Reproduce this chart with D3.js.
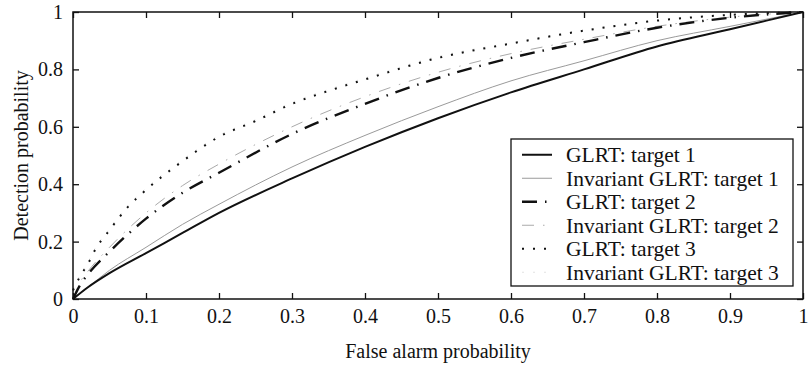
<!DOCTYPE html>
<html><head><meta charset="utf-8">
<script src="https://cdn.jsdelivr.net/npm/d3@7"></script>
<style>body{margin:0;background:#fff}svg{display:block}text{font-family:"Liberation Serif","Times New Roman",serif;fill:#111}</style>
</head><body><svg id="c" width="808" height="371"></svg>
<script>
// False alarm probability grid (x) and detection probabilities per curve
const xGLRT1 = [0,0.02,0.05,0.1,0.15,0.2,0.3,0.4,0.5,0.6,0.7,0.8,0.9,1];
const glrt1  = [0,0.04,0.09,0.16,0.23,0.30,0.42,0.53,0.63,0.72,0.80,0.88,0.94,1];
const inv1   = [0,0.04,0.10,0.18,0.26,0.33,0.46,0.57,0.67,0.76,0.83,0.90,0.95,1];
const xT2    = [0,0.01,0.02,0.05,0.1,0.15,0.2,0.3,0.4,0.5,0.6,0.7,0.8,0.9,1];
const glrt2  = [0,0.05,0.085,0.165,0.28,0.37,0.44,0.575,0.68,0.77,0.84,0.895,0.945,0.98,1];
const inv2   = [0,0.06,0.095,0.18,0.30,0.395,0.47,0.60,0.705,0.79,0.855,0.905,0.95,0.982,1];
const xT3    = [0,0.01,0.02,0.03,0.05,0.075,0.1,0.15,0.2,0.25,0.3,0.35,0.4,0.5,0.6,0.7,0.8,0.9,1];
const glrt3  = [0.03,0.08,0.12,0.17,0.24,0.32,0.38,0.48,0.565,0.62,0.68,0.725,0.765,0.84,0.89,0.935,0.97,0.99,1];
const inv3   = [0.035,0.085,0.125,0.175,0.245,0.325,0.385,0.485,0.57,0.625,0.685,0.73,0.77,0.845,0.893,0.937,0.971,0.99,1];
const xTicks = [0,0.1,0.2,0.3,0.4,0.5,0.6,0.7,0.8,0.9,1];
const yTicks = [0,0.2,0.4,0.6,0.8,1];
const legendLabels = ["GLRT: target 1","Invariant GLRT: target 1","GLRT: target 2","Invariant GLRT: target 2","GLRT: target 3","Invariant GLRT: target 3"];

const svg = d3.select("#c");
const L=73,R=803,T=12,B=299;
const x = d3.scaleLinear().domain([0,1]).range([L,R]);
const y = d3.scaleLinear().domain([0,1]).range([B,T]);

const styles = [
  {stroke:"#111", w:2.0, dash:null},
  {stroke:"#9a9a9a", w:1.0, dash:null},
  {stroke:"#111", w:2.4, dash:"15,8,1.5,8"},
  {stroke:"#aaaaaa", w:1.0, dash:"12,9,1.5,9"},
  {stroke:"#111", w:2.0, dash:"2,9"},
  {stroke:"#e2e2e2", w:1.0, dash:"2,9"}
];
const series = [
  {xs:xGLRT1, ys:glrt1},{xs:xGLRT1, ys:inv1},
  {xs:xT2, ys:glrt2},{xs:xT2, ys:inv2},
  {xs:xT3, ys:glrt3},{xs:xT3, ys:inv3}
];
const line = d3.line().curve(d3.curveMonotoneX);
const g = svg.append("g");
[5,3,1,4,2,0].forEach(i=>{
  const s=series[i], st=styles[i];
  g.append("path").attr("d", line(s.xs.map((v,k)=>[x(v),y(s.ys[k])])))
   .attr("fill","none").attr("stroke",st.stroke).attr("stroke-width",st.w)
   .attr("stroke-dasharray",st.dash);
});

// frame
svg.append("rect").attr("x",L).attr("y",T).attr("width",R-L).attr("height",B-T)
  .attr("fill","none").attr("stroke","#111").attr("stroke-width",1.5);

// axes with inward ticks
const tk=6;
const xb = d3.axisBottom(x).tickValues(xTicks).tickSize(-tk).tickPadding(10).tickFormat(d3.format("~g"));
const xt = d3.axisTop(x).tickValues(xTicks).tickSize(-tk).tickFormat("");
const yl = d3.axisLeft(y).tickValues(yTicks).tickSize(-tk).tickPadding(10).tickFormat(d3.format("~g"));
const yr = d3.axisRight(y).tickValues(yTicks).tickSize(-tk).tickFormat("");
[[xb,`translate(0,${B})`],[xt,`translate(0,${T})`],[yl,`translate(${L},0)`],[yr,`translate(${R},0)`]].forEach(([a,tr])=>{
  const ga=svg.append("g").attr("transform",tr).call(a);
  ga.select(".domain").remove();
  ga.selectAll("line").attr("stroke","#111").attr("stroke-width",1.3);
  ga.selectAll("text").style("font-family",'"Liberation Serif","Times New Roman",serif').style("font-size","20px").attr("fill","#111");
});

svg.append("text").attr("x",(L+R)/2).attr("y",358).attr("text-anchor","middle").style("font-size","20px").text("False alarm probability");
svg.append("text").attr("transform",`translate(28,${(T+B)/2}) rotate(-90)`).attr("text-anchor","middle").style("font-size","20px").text("Detection probability");

// legend
const lg = svg.append("g");
const lx0=511, lx1=793, ly0=139, ly1=286;
lg.append("rect").attr("x",lx0).attr("y",ly0).attr("width",lx1-lx0).attr("height",ly1-ly0)
  .attr("fill","#fff").attr("stroke","#111").attr("stroke-width",1.3);
const rowH=(ly1-ly0-6)/6;
legendLabels.forEach((lab,i)=>{
  const cy=ly0+4+rowH*(i+0.5);
  const st=styles[i];
  lg.append("line").attr("x1",522).attr("x2",552).attr("y1",cy).attr("y2",cy)
    .attr("stroke",st.stroke).attr("stroke-width",st.w).attr("stroke-dasharray",st.dash);
  lg.append("text").attr("x",566).attr("y",cy).attr("dy","0.35em").style("font-size","21.5px").text(lab);
});
</script></body></html>
